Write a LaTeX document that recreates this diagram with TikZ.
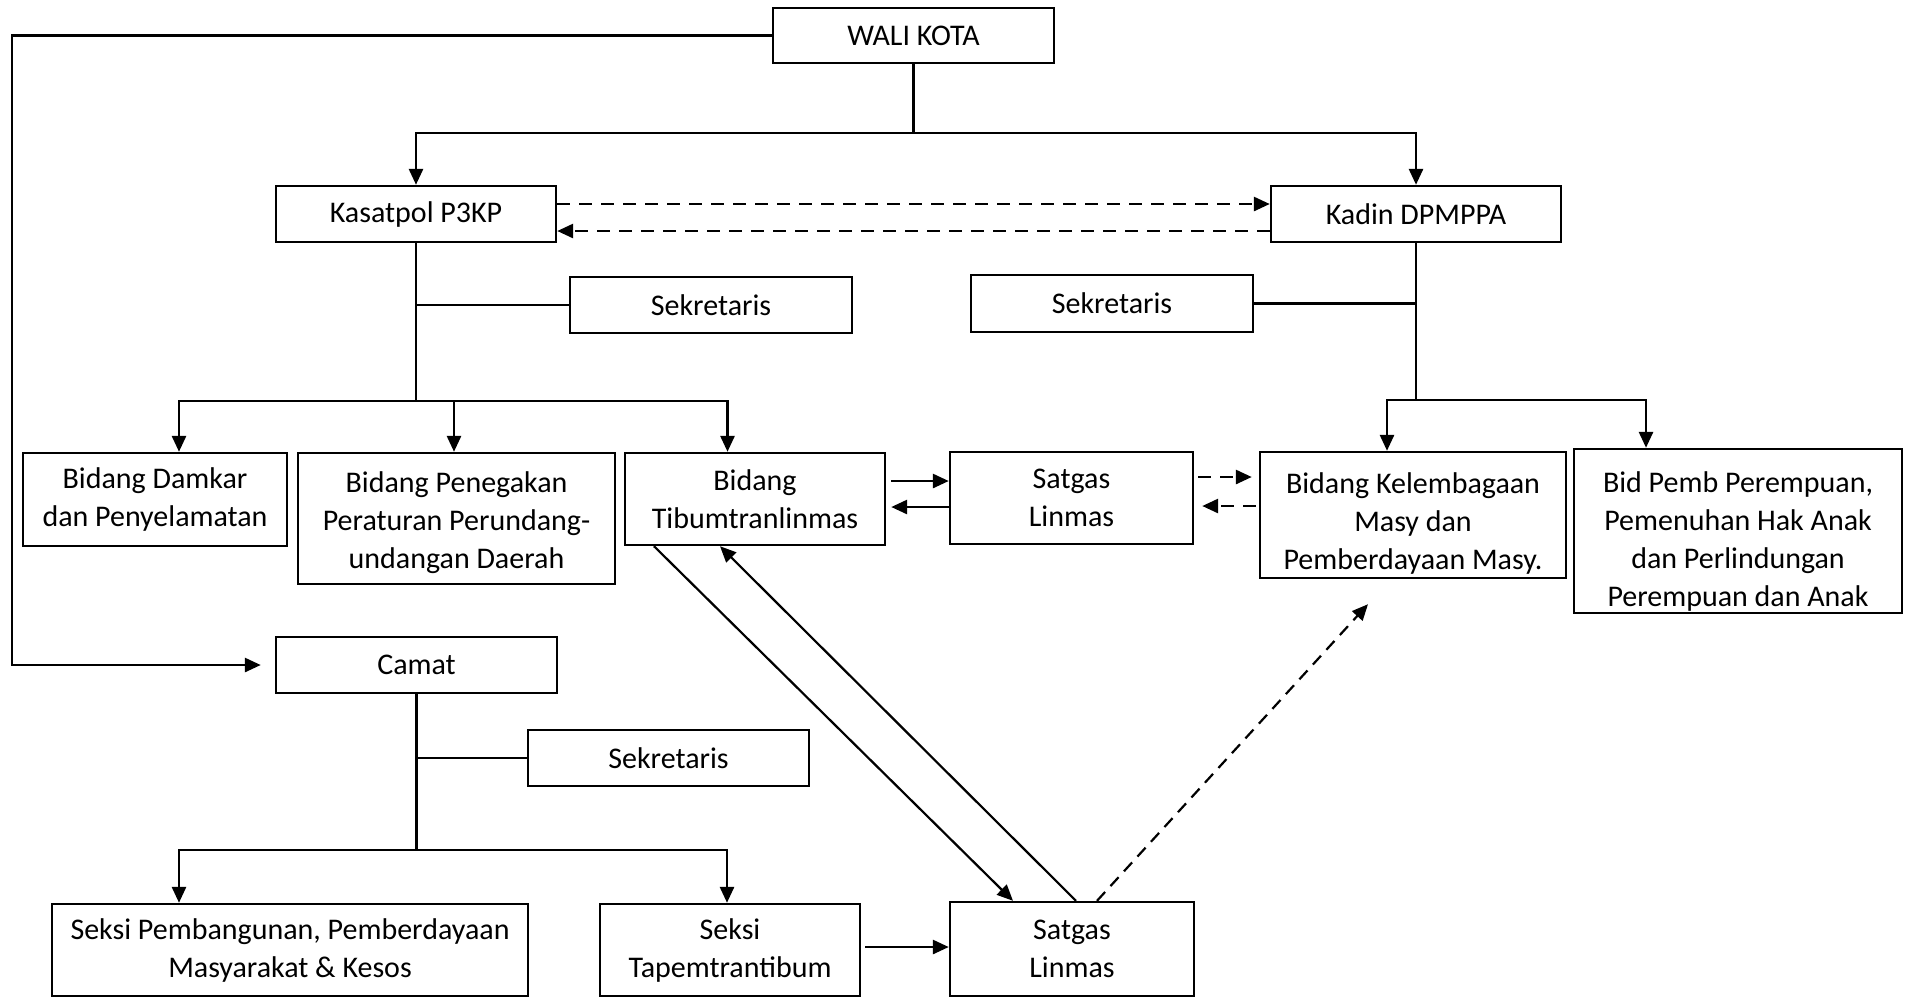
\documentclass[tikz,border=0pt]{standalone}
\usepackage{fontspec}
\setmainfont{Carlito}
\usetikzlibrary{arrows.meta}

\begin{document}
\begin{tikzpicture}[x=0.5pt,y=-0.5pt,>={Triangle[length=8pt,width=7pt]}]

      \useasboundingbox (0,0) rectangle (1909,998);

      \begin{scope}[every node/.style={draw, line width=1.2pt, inner sep=0pt, align=center, font=\fontsize{15}{19}\selectfont}]
        \node[minimum width=140.5pt, minimum height=27.5pt] (1)  at (913.5,35.5) {WALI KOTA};
        \node[minimum width=140pt, minimum height=28pt]     (2)  at (416,214)    {Kasatpol P3KP};
        \node[minimum width=145pt, minimum height=28pt]     (3)  at (1416,214)   {Kadin DPMPPA};
        \node[minimum width=141pt, minimum height=28pt]     (4)  at (711,305)    {Sekretaris};
        \node[minimum width=141pt, minimum height=28.5pt]   (5)  at (1112,303.5) {Sekretaris};
        \node[minimum width=132pt, minimum height=46.5pt]   (6)  at (155,499.5)  {Bidang Damkar\\dan Penyelamatan};
        \node[minimum width=158.5pt, minimum height=65.5pt] (7)  at (456.5,518.5) {\rule{0pt}{15pt}Bidang Penegakan\\Peraturan Perundang-\\undangan Daerah};
        \node[minimum width=130pt, minimum height=46pt]     (8)  at (755,499)    {Bidang\\Tibumtranlinmas};
        \node[minimum width=121.5pt, minimum height=46pt]   (9)  at (1071.5,498) {Satgas\\Linmas};
        \node[minimum width=153pt, minimum height=63pt]     (10) at (1413,515)   {\rule{0pt}{19pt}Bidang Kelembagaan\\Masy dan\\Pemberdayaan Masy.};
        \node[minimum width=164pt, minimum height=82pt]     (11) at (1738,531)   {\rule{0pt}{21pt}Bid Pemb Perempuan,\\Pemenuhan Hak Anak\\dan Perlindungan\\Perempuan dan Anak};
        \node[minimum width=140.5pt, minimum height=28pt]   (12) at (416.5,665)  {Camat};
        \node[minimum width=140.5pt, minimum height=28pt]   (13) at (668.5,758)  {Sekretaris};
        \node[minimum width=238pt, minimum height=46pt]     (14) at (290,950)    {Seksi Pembangunan, Pemberdayaan\\Masyarakat \& Kesos};
        \node[minimum width=130pt, minimum height=46pt]     (15) at (730,950)    {Seksi\\Tapemtrantibum};
        \node[minimum width=122pt, minimum height=47pt]     (16) at (1072,949)   {Satgas\\Linmas};
      \end{scope}

      \coordinate (a)  at (12,35.5);
      \coordinate (b)  at (12,665);
      \coordinate (c1) at (913.5,133);
      \coordinate (c2) at (416,401);
      \coordinate (c3) at (1416,400);
      \coordinate (c4) at (416.5,850);

      \begin{scope}[line width=1.4pt]
        \draw (1) -- (c1);
        \draw[->] (c1) -| (2);
        \draw[->] (c1) -| (3);
        \draw[->, shorten >=7pt] (1) -- (a) -- (b) -- (12);

        \draw (2) -- (c2);
        \draw[line width=1.2pt] (4) -- (4 -| 2);
        \draw[->] (c2) -| ([xshift=12pt]6.north);
        \draw[->] (c2) -| ([xshift=-1.25pt]7.north);
        \draw[->] (c2) -| ([xshift=-13.75pt]8.north);

        \draw (3) -- (c3);
        \draw[line width=1.2pt] (5) -- (5 -| 3);
        \draw[->] (c3) -| ([xshift=-13pt]10.north);
        \draw[->] (c3) -| ([xshift=-46pt]11.north);

        \draw (12) -- (c4);
        \draw[line width=1.2pt] (13) -- (13 -| 12);
        \draw[->] (c4) -| ([xshift=-55.5pt]14.north);
        \draw[->] (c4) -| ([xshift=-1.5pt]15.north);

        \draw[->, shorten <=2.5pt] ([yshift=9pt]8.east) -- ([yshift=9pt]8.east -| 9.west);
        \draw[->, shorten >=2.5pt] ([yshift=-4.5pt]9.west) -- ([yshift=-4.5pt]9.west -| 8.east);
        \draw[->, shorten <=2pt] ([yshift=1.5pt]15.east) -- ([yshift=1.5pt]15.east -| 16.west);

        \begin{scope}[dash pattern=on 6.5pt off 4.5pt]
          \draw[->] ([yshift=5pt]2.east) -- ([yshift=5pt]2.east -| 3.west);
          \draw[->] ([yshift=-8.5pt]3.west) -- ([yshift=-8.5pt]3.west -| 2.east);
          \draw[->, shorten <=2pt, shorten >=3.5pt] ([yshift=10.5pt]9.east) -- ([yshift=10.5pt]9.east -| 10.west);
          \draw[->, shorten <=1.5pt, shorten >=4pt] ([yshift=4.5pt]10.west) -- ([yshift=4.5pt]10.west -| 9.east);
        \end{scope}
      \end{scope}

      \begin{scope}[line width=1.1pt]
        \draw[->] ([xshift=-50.5pt]8.south) -- ([xshift=-29.5pt]16.north);
        \draw[->] ([xshift=2pt]16.north) -- ([xshift=-17.5pt]8.south);
        \draw[->, dash pattern=on 6pt off 4pt] ([xshift=12.5pt]16.north) -- ([xshift=-22.5pt,yshift=-12.5pt]10.south);
      \end{scope}

    \end{tikzpicture}
\end{document}
